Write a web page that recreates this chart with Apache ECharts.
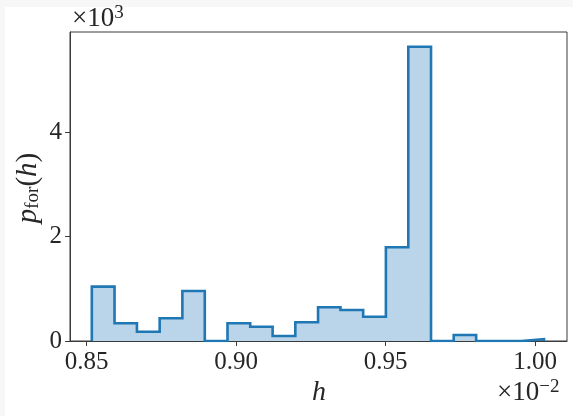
<!DOCTYPE html>
<html>
<head>
<meta charset="utf-8">
<script src="https://cdn.jsdelivr.net/npm/echarts@6/dist/echarts.min.js"></script>
<style>
  html, body { margin: 0; padding: 0; background: #ffffff; }
  #chart { width: 573px; height: 416px; }
</style>
</head>
<body>
<div id="chart"></div>
<script>
// Histogram bin edges (h, in units of 1e-2) and bin heights (p_for, raw)
const binEdges = [0.8517, 0.8593, 0.8668, 0.8744, 0.8820, 0.8895, 0.8971, 0.9047,
                  0.9122, 0.9198, 0.9274, 0.9349, 0.9425, 0.9501, 0.9576, 0.9652,
                  0.9728, 0.9803, 0.9879, 0.9955, 1.0030];
const binHeights = [1040, 339, 178, 434, 957, 0, 339, 274, 96, 358,
                    645, 593, 465, 1793, 5633, 0, 115, 0, 0, 33];

const xTicks = [0.85, 0.90, 0.95, 1.00];
const yTicks = [0, 2000, 4000];

const xRange = [0.8444, 1.0107];
const yRange = [0, 5914];

// Outline of the step histogram: up from zero, across each bin, back to zero
const outline = [[binEdges[0], 0]];
binHeights.forEach((v, i) => {
  outline.push([binEdges[i], v]);
  outline.push([binEdges[i + 1], v]);
});
outline.push([binEdges[binEdges.length - 1], 0]);

const serif = '"Liberation Serif", "DejaVu Serif", serif';
const ink = '#262626';
const spine = '#3a3a3a';

const chart = echarts.init(document.getElementById('chart'), null, { renderer: 'canvas' });

chart.setOption({
  animation: false,
  backgroundColor: '#ffffff',
  grid: {
    left: 70, top: 32, right: 6, bottom: 75,
    show: true, borderColor: spine, borderWidth: 1, backgroundColor: 'transparent'
  },
  xAxis: {
    type: 'value',
    min: xRange[0], max: xRange[1],
    splitLine: { show: false },
    axisLine: { show: true, onZero: false, lineStyle: { color: spine, width: 1 } },
    axisTick: { show: true, inside: false, length: 5, lineStyle: { color: spine }, customValues: xTicks },
    axisLabel: {
      customValues: xTicks,
      formatter: v => v.toFixed(2),
      fontFamily: serif, fontSize: 25, color: ink, margin: 9
    }
  },
  yAxis: {
    type: 'value',
    min: yRange[0], max: yRange[1],
    splitLine: { show: false },
    axisLine: { show: true, lineStyle: { color: spine, width: 1 } },
    axisTick: { show: true, inside: false, length: 5, lineStyle: { color: spine }, customValues: yTicks },
    axisLabel: {
      customValues: yTicks,
      formatter: v => String(v / 1000),
      fontFamily: serif, fontSize: 25, color: ink, margin: 8
    }
  },
  series: [{
    type: 'line',
    data: outline,
    symbol: 'none',
    lineStyle: { color: '#1f77b4', width: 2.6, join: 'miter' },
    areaStyle: { color: '#bad4ea', opacity: 1, origin: 0 },
    z: 1
  }],
  graphic: [
    // faint page margin along the top and left edges
    { type: 'rect', shape: { x: 0, y: 0, width: 573, height: 7 }, style: { fill: '#f7f7f7' }, z: -10, silent: true },
    { type: 'rect', shape: { x: 0, y: 0, width: 5, height: 416 }, style: { fill: '#f7f7f7' }, z: -10, silent: true },
    {
      type: 'text', x: 72, y: 33,
      style: {
        text: '×10{s|3}', font: '27px ' + serif, fill: ink, verticalAlign: 'bottom',
        rich: { s: { fontFamily: serif, fontSize: 19, fill: ink, verticalAlign: 'top', padding: [0, 0, 10, 0] } }
      }
    },
    {
      type: 'text', x: 319, y: 407,
      style: {
        text: 'h', font: 'italic 28px ' + serif, fill: ink,
        align: 'center', verticalAlign: 'bottom'
      }
    },
    {
      type: 'text', x: 497, y: 407,
      style: {
        text: '×10{s|−2}', font: '27px ' + serif, fill: ink, verticalAlign: 'bottom',
        rich: { s: { fontFamily: serif, fontSize: 19, fill: ink, verticalAlign: 'top', padding: [0, 0, 10, 0] } }
      }
    },
    {
      type: 'text', x: 28, y: 188, rotation: Math.PI / 2,
      style: {
        text: '{i|p}{sub|for}{r|(}{i|h}{r|)}',
        align: 'center', verticalAlign: 'middle', fill: ink,
        rich: {
          i: { fontFamily: serif, fontStyle: 'italic', fontSize: 29, fill: ink },
          r: { fontFamily: serif, fontSize: 29, fill: ink },
          sub: { fontFamily: serif, fontSize: 19, fill: ink, verticalAlign: 'bottom', padding: [9, 0, 0, 0] }
        }
      }
    }
  ]
});
</script>
</body>
</html>
